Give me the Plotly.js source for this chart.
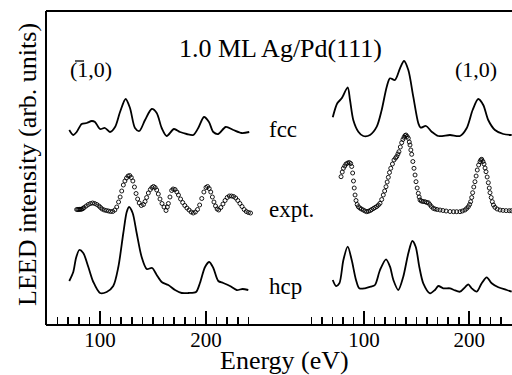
<!DOCTYPE html>
<html>
<head>
<meta charset="utf-8">
<script src="https://cdn.plot.ly/plotly-3.0.1.min.js"></script>
<style>html,body{margin:0;padding:0;background:#fff;}#chart{width:512px;height:375px;}</style>
</head>
<body>
<div id="chart"></div>
<script>
// ---------- data (energy in eV, intensity in arb. units) ----------
// (-1,0) beam, fcc calculation
var leftFccE = [71.0,74.8,78.0,82.7,87.5,92.2,95.3,100,104.7,109.4,114.2,118.9,124.2,128.3,133.0,137.1,142.5,148.8,153.5,158.2,162.9,169.8,175.5,181.8,188.0,192.7,198.1,202.8,206.9,211.6,218.6,225.8,233.7,240.8];
var leftFccI = [10,5,8,16,17,19,18,11,12,8,13,28,41,32,12,9,20,31,27,12,4,11,8,6,5,12,23,18,8,6,13,10,7,8];
// (-1,0) beam, experiment
var leftExpE = [78,79,80,81,82,83,84,85,87,89,91,93,95,97,99,100.5,102,104,106,108,110,112,114,115.8,117.5,119,120.5,122,123.5,125,126.5,128,129.5,131,132.5,134,135.5,137,139,141,142.5,144,145.6,147.5,149,150.5,152,153.5,155,156.6,158.5,160.4,162.3,163.5,164.5,166,167.6,169,170.8,172.5,174,176,178,180,182,184,186,188,190,192,194,196,198,200,201.5,203,204.5,206,207.5,209,210.5,212,214,216,218,220,222,224,226,228,230,232,234,236,238,240,242];
var leftExpI = [5.5,5.5,5.5,5.7,5.7,6,6.5,7.5,9,10.5,11.5,12,11.5,10.5,9,7.5,6,5,4.5,4,3.5,3.5,5,8,13,18,24,30,34,37,39,39.5,37.5,34,28,21.5,16,12,9.5,10.5,13.5,17.5,22,25.5,27.5,28.5,27.5,25,21,16,11.5,8,4.5,8,11.5,18,24.5,26,25.5,23,20,16,12.5,9.5,7,5,3,2,3,5.5,10,16.5,23,27.5,28.5,26.5,23,18,13,9,6,5,7.5,11,14.5,17.5,19,19,18.5,17,14.5,11.5,8.5,5.5,3.5,2.5,2];
// (-1,0) beam, hcp calculation
var leftHcpE = [71.0,74.8,77.4,80.5,84.2,89.0,93.7,100,106.3,112.5,117.3,122.0,125.2,127.4,130.8,134.6,139.3,144.1,149.2,153.5,158.2,164.4,170.8,177.1,183.3,190.6,194.3,199.1,203.1,206.9,211.6,216.3,222.6,228.9,234.5,239.9];
var leftHcpI = [14,23,37,45,42,28,13,2,3,9,28,62,83,88,82,62,38,26,27,20,13,10,5,2,2,3,12,28,33,27,14,12,9,5,6,5];

// (1,0) beam, fcc calculation
var rightFccE = [70.3,74.6,78.8,84.5,86.7,89.8,94.6,99.3,105.7,112.1,116.8,121.6,124.7,129.4,134.2,138.0,142.1,146.8,151.6,153.8,158.9,164.3,170.6,181.7,191.2,197.5,203.2,208.5,213.3,218.0,224.4,232.3,240.3];
var rightFccI = [22.7,36.7,41.7,52.7,40,20,8.3,4,5,13.3,30,53.3,61.7,60,71.7,79,70,43.3,16.7,12.3,14,8.3,4,5,4,11.7,30,41,35,20,10,6,5];
// (1,0) beam, experiment
var rightExpE = [78.2,79.3,80.4,81.7,82.9,84.5,86,87.3,88.3,89.2,90,90.7,91.5,92.4,93.5,94.6,96,97.5,99.3,101,102.6,104.3,106,107.3,109,110.5,112.1,113.7,115.2,116.8,118.3,119.6,120.9,122,123.1,124.2,125.4,127,128.5,130,131.1,132.2,133.2,134.5,135.8,137,138,139,139.9,141,142.1,143,143.7,144.5,145.3,146.4,147.5,148.5,149.4,150.5,151.6,152.4,153.2,154.5,156,157.9,159.5,161.1,162.5,164,165.8,167.5,169.5,172.2,175,178,181.7,185,188,191.2,193.5,195.9,197.5,199.1,200.3,201.3,202.3,203.2,204.3,205.4,206.5,207.6,208.9,210.2,211,211.8,213,214,215,215.9,217,218.1,219,219.7,220.8,221.9,223,224.4,226.5,229.2,232,235,238,240.3];
var rightExpI = [38.3,43,46.7,49,51,52,52.5,51.5,48.5,42,34,27,20,14.5,10.5,8.3,7,6,5,4,3.3,3.8,4.5,5.5,6.5,7.5,8.5,10,11.7,15.5,20,24,28.3,33,37.7,42.5,46.7,51,55,57,58.5,61,63.3,68,72.3,75.5,77.7,79.5,80,78.5,76.7,73,70,65,60.7,53.5,46.7,40,33.3,27,21.7,18,15,14,13.5,13.3,12.5,12.3,10.5,8.5,6.7,6,5.5,5,4.5,4,3.5,3.3,3.3,3.3,4,5,6.5,8.3,10.5,13.3,17.5,22.3,28,33.3,39,45,50,53.3,55,55.7,53.5,51,47,43.3,38,32.3,27,22.3,17.5,13.3,10,7.7,6,5,4.6,4.4,4.3,4.3];
// (1,0) beam, hcp calculation
var rightHcpE = [70.3,73.4,76.6,80.4,84.5,88.3,92.4,95.5,100.9,106.4,110.4,115.2,120.9,124.7,127.9,132.6,137.3,142.1,145.9,149.1,152.5,156.3,162.7,167.4,170.6,175.3,181.7,185.5,191.2,195.9,199.1,202.3,207.1,211.8,216.6,221.3,227.6,235.6,240.3];
var rightHcpI = [15,9,11.7,35,48.3,35,15,6.7,6.7,8.3,10,25,35.7,28.3,15,5,18.3,41.7,54,48.3,28.3,11.7,1.7,5,9,6.7,6.7,5,3.3,7.7,10.7,6.7,3.3,11.7,17.7,11.7,7.7,5,3.3];

// curve offsets (vertical stacking) and labels
var offsets = {fcc: 185, expt: 110, hcp: 30};
var majorTicks = [100, 200];
var majorTickText = ['100', '200'];
var curveLabels = ['fcc', 'expt.', 'hcp'];

// ---------- build ----------
function shift(arr, off) { return arr.map(function (v) { return v + off; }); }
var serif = 'Liberation Serif';
function lineTrace(x, y, off, xa) {
  return {x: x, y: shift(y, off), xaxis: xa, yaxis: 'y', type: 'scatter', mode: 'lines',
    line: {color: '#000', width: 1.8, shape: 'spline', smoothing: 0.8}, hoverinfo: 'skip'};
}
function dotTrace(x, y, off, xa) {
  return {x: x, y: shift(y, off), xaxis: xa, yaxis: 'y', type: 'scatter', mode: 'markers',
    marker: {symbol: 'circle-open', size: 4, color: '#000', line: {color: '#000', width: 0.9}}, hoverinfo: 'skip'};
}
var data = [
  lineTrace(leftFccE, leftFccI, offsets.fcc, 'x'),
  dotTrace(leftExpE, leftExpI, offsets.expt, 'x'),
  lineTrace(leftHcpE, leftHcpI, offsets.hcp, 'x'),
  lineTrace(rightFccE, rightFccI, offsets.fcc, 'x2'),
  dotTrace(rightExpE, rightExpI, offsets.expt, 'x2'),
  lineTrace(rightHcpE, rightHcpI, offsets.hcp, 'x2')
];

function xax(domain, range) {
  return {domain: domain, range: range, anchor: 'y', tickmode: 'array', tickvals: majorTicks, ticktext: majorTickText,
    ticks: 'inside', ticklen: 14, tickwidth: 1.6, tickcolor: '#000', showline: false, showgrid: false, zeroline: false,
    tickfont: {family: serif, size: 21, color: '#000'},
    minor: {tickmode: 'linear', tick0: 0, dtick: 10, ticks: 'inside', ticklen: 8, tickwidth: 1.6, tickcolor: '#000', showgrid: false},
    fixedrange: true};
}

function px(x) { return (x - 46) / 466; }
function py(y) { return (325 - y) / 314; }

var layout = {
  width: 512, height: 375,
  margin: {l: 46, r: 0, t: 11, b: 50, pad: 0},
  paper_bgcolor: '#fff', plot_bgcolor: '#fff',
  showlegend: false,
  font: {family: serif, color: '#000'},
  xaxis: xax([0, 0.4457], [49.06, 245]),
  xaxis2: xax([0.5582, 1], [45, 240.6]),
  yaxis: {range: [0, 314], showticklabels: false, ticks: '', showgrid: false, zeroline: false, showline: false, fixedrange: true},
  shapes: [
    {type: 'line', xref: 'paper', yref: 'paper', x0: 0, x1: 1, y0: 0, y1: 0, line: {color: '#000', width: 2}},
    {type: 'line', xref: 'paper', yref: 'paper', x0: 0, x1: 1, y0: 1, y1: 1, line: {color: '#000', width: 2}},
    {type: 'line', xref: 'paper', yref: 'paper', x0: 0, x1: 0, y0: 0, y1: 1, line: {color: '#000', width: 2}},
    // overbar of the (1-bar,0) beam label
    {type: 'line', xref: 'paper', yref: 'paper', x0: px(75), x1: px(84), y0: py(61), y1: py(61), line: {color: '#000', width: 1.3}}
  ],
  annotations: [
    {text: '1.0 ML Ag/Pd(111)', xref: 'paper', yref: 'paper', x: px(280), y: py(49), showarrow: false, xanchor: 'center', yanchor: 'middle', font: {family: serif, size: 26, color: '#000'}},
    {text: '(1,0)', xref: 'paper', yref: 'paper', x: px(68), y: py(70), showarrow: false, xanchor: 'left', yanchor: 'middle', font: {family: serif, size: 22, color: '#000'}},
    {text: '(1,0)', xref: 'paper', yref: 'paper', x: px(476), y: py(70), showarrow: false, xanchor: 'center', yanchor: 'middle', font: {family: serif, size: 22, color: '#000'}},
    {text: curveLabels[0], xref: 'paper', yref: 'paper', x: px(267), y: py(129), showarrow: false, xanchor: 'left', yanchor: 'middle', font: {family: serif, size: 23, color: '#000'}},
    {text: curveLabels[1], xref: 'paper', yref: 'paper', x: px(267), y: py(209), showarrow: false, xanchor: 'left', yanchor: 'middle', font: {family: serif, size: 23, color: '#000'}},
    {text: curveLabels[2], xref: 'paper', yref: 'paper', x: px(267), y: py(286), showarrow: false, xanchor: 'left', yanchor: 'middle', font: {family: serif, size: 23, color: '#000'}},
    {text: 'Energy (eV)', xref: 'paper', yref: 'paper', x: px(284), y: py(360.5), showarrow: false, xanchor: 'center', yanchor: 'middle', font: {family: serif, size: 26, color: '#000'}},
    {text: 'LEED intensity (arb. units)', xref: 'paper', yref: 'paper', x: px(27), y: py(165), showarrow: false, textangle: -90, xanchor: 'center', yanchor: 'middle', font: {family: serif, size: 26, color: '#000'}}
  ]
};

Plotly.newPlot('chart', data, layout, {staticPlot: true, displayModeBar: false});
</script>
</body>
</html>
